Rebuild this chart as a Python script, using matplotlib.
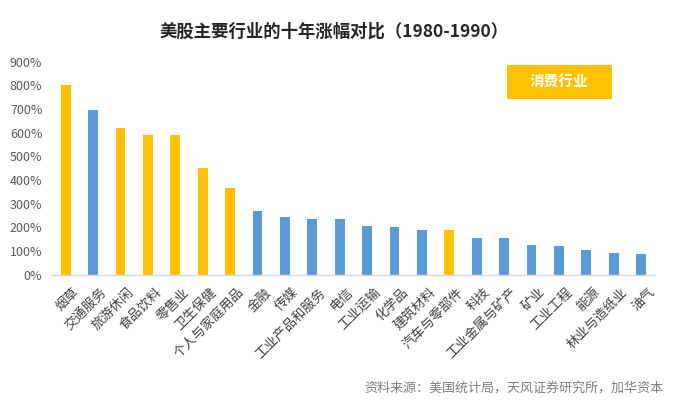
import matplotlib.pyplot as plt
from matplotlib.patches import FancyBboxPatch
from matplotlib.transforms import ScaledTranslation

plt.rcParams['font.family'] = ['Noto Sans CJK SC', 'DejaVu Sans']

industries = ['烟草', '交通服务', '旅游休闲', '食品饮料', '零售业', '卫生保健', '个人与家庭用品',
              '金融', '传媒', '工业产品和服务', '电信', '工业运输', '化学品', '建筑材料',
              '汽车与零部件', '科技', '工业金属与矿产', '矿业', '工业工程', '能源',
              '林业与造纸业', '油气']
gains = [800, 695, 620, 590, 590, 450, 365,
         270, 245, 235, 235, 205, 200, 188,
         188, 155, 155, 125, 120, 105,
         92, 87]
consumer = ['烟草', '旅游休闲', '食品饮料', '零售业', '卫生保健', '个人与家庭用品', '汽车与零部件']
yticks = [0, 100, 200, 300, 400, 500, 600, 700, 800, 900]

gold = '#FFC000'
blue = '#5B9BD5'
colors = [gold if name in consumer else blue for name in industries]

fig = plt.figure(figsize=(6.85, 4.09), dpi=100)
ax = fig.add_axes([0.076, 0.328, 0.880, 0.521])

x = range(len(industries))
ax.bar(x, gains, width=0.36, color=colors)

ax.set_xlim(-0.5, len(industries) - 0.5)
ax.set_ylim(0, 900)
ax.set_yticks(yticks)
ax.set_yticklabels([f'{v}%' for v in yticks], fontsize=9, color='#595959')
ax.set_xticks(list(x))
ax.set_xticklabels(industries, rotation=45, ha='right', va='top', rotation_mode='anchor',
                   fontsize=9.5, color='#404040')
ax.tick_params(axis='both', length=0)
ax.tick_params(axis='x', pad=8)
ax.tick_params(axis='y', pad=7)

# nudge the rotated labels a little to the right
shift = ScaledTranslation(7 / 100, 0, fig.dpi_scale_trans)
for lab in ax.get_xticklabels():
    lab.set_transform(lab.get_transform() + shift)

for side in ['top', 'right', 'left']:
    ax.spines[side].set_visible(False)
ax.spines['bottom'].set_color('#d9d9d9')
ax.spines['bottom'].set_linewidth(1)

fig.text(0.488, 0.922, '美股主要行业的十年涨幅对比（1980-1990）', ha='center', va='center',
         fontsize=12.5, fontweight='bold', color='#262626')

# legend box for consumer industries
box = FancyBboxPatch((0.740, 0.758), 0.153, 0.083, boxstyle='square,pad=0',
                     transform=fig.transFigure, facecolor=gold, edgecolor='none')
fig.patches.append(box)
fig.text(0.8165, 0.800, '消费行业', ha='center', va='center', fontsize=10.5,
         fontweight='bold', color='white')

fig.text(0.968, 0.051, '资料来源：美国统计局，天风证券研究所，加华资本', ha='right', va='center',
         fontsize=9.4, color='#7f7f7f')

plt.savefig('out.png', dpi=100)
